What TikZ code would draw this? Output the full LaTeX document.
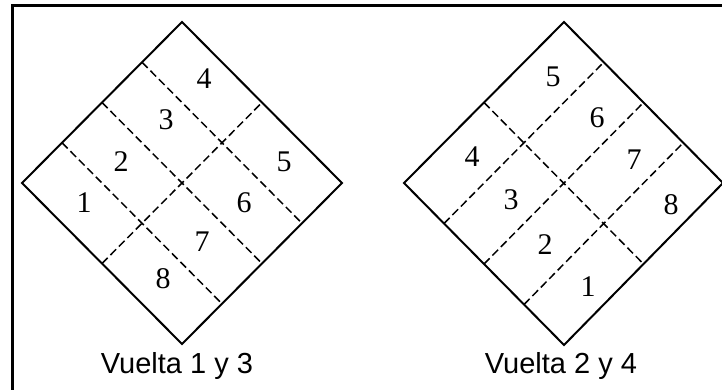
\documentclass[tikz,border=0pt]{standalone}
\usepackage{fontspec}
\setmainfont{Liberation Serif}
\newfontfamily\capfont{Liberation Sans}
\usetikzlibrary{calc}
\tikzset{
  edge/.style={line width=2pt, line join=miter},
  divline/.style={line width=1.5pt, dash pattern=on 8pt off 4pt},
  num/.style={inner sep=0pt, font=\fontsize{30}{30}\selectfont},
  caption/.style={inner sep=0pt, anchor=base, font=\capfont\fontsize{29}{29}\selectfont},
  frameline/.style={line width=3pt}
}
\begin{document}
\begin{tikzpicture}[x=1pt, y=-1pt]
\useasboundingbox (0,0) rectangle (722,390);
\clip (0,0) rectangle (722,390);
% frame
\coordinate (F1) at (12,6);
\coordinate (F2) at (740,400);
\draw[frameline] (F1) rectangle (F2);
% left diamond
\coordinate (T1) at (182,22);
\coordinate (L1) at (22,183);
\coordinate (R1) at (342,183);
\coordinate (B1) at (182,344);
\foreach \s in {0.25,0.5,0.75}{
  \draw[divline] ($(L1)!\s!(T1)$) -- ($(B1)!\s!(R1)$);
}
\draw[divline] ($(L1)!0.5!(B1)$) -- ($(T1)!0.5!(R1)$);
\draw[edge] (T1) -- (R1) -- (B1) -- (L1) -- cycle;
\node[num] (a1) at (84,203) {1};
\node[num] (a2) at (121,162) {2};
\node[num] (a3) at (166,120) {3};
\node[num] (a4) at (204,79) {4};
\node[num] (a5) at (284,162) {5};
\node[num] (a6) at (244,203) {6};
\node[num] (a7) at (202,242) {7};
\node[num] (a8) at (163,279) {8};
\node[caption] (c1) at (177,373) {Vuelta 1 y 3};
% right diamond
\coordinate (T2) at (564,22);
\coordinate (L2) at (404,183);
\coordinate (R2) at (723,183);
\coordinate (B2) at (564,345);
\foreach \t in {0.25,0.5,0.75}{
  \draw[divline] ($(L2)!\t!(B2)$) -- ($(T2)!\t!(R2)$);
}
\draw[divline] ($(L2)!0.5!(T2)$) -- ($(B2)!0.5!(R2)$);
\draw[edge] (T2) -- (R2) -- (B2) -- (L2) -- cycle;
\node[num] (b1) at (588,287) {1};
\node[num] (b2) at (545,245) {2};
\node[num] (b3) at (511,200) {3};
\node[num] (b4) at (472,157) {4};
\node[num] (b5) at (553,77) {5};
\node[num] (b6) at (597,118) {6};
\node[num] (b7) at (634,160) {7};
\node[num] (b8) at (671,205) {8};
\node[caption] (c2) at (561,373) {Vuelta 2 y 4};
\end{tikzpicture}
\end{document}
